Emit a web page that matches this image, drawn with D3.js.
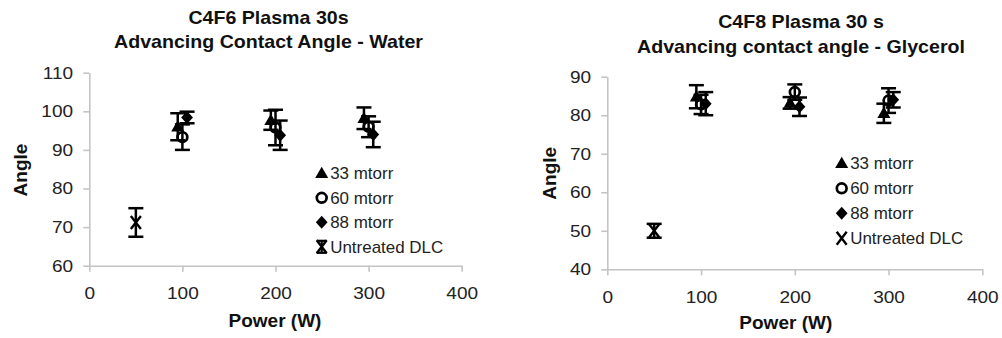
<!DOCTYPE html>
<html>
<head>
<meta charset="utf-8">
<script src="https://cdn.jsdelivr.net/npm/d3@7"></script>
<style>
  body { margin: 0; background: #fff; }
  svg { display: block; font-family: Arial, "Liberation Sans", sans-serif; }
</style>
</head>
<body>
<svg id="chart" width="1002" height="338"></svg>
<script>
// x positions (W) - Excel offsets the series a little around each power
const powerTicks = [0, 100, 200, 300, 400];
const power33 = [95, 195, 295];
const power60 = [100, 200, 300];
const power88 = [105, 205, 305];
const powerUntreated = [50];
const seriesNames = ["33 mtorr", "60 mtorr", "88 mtorr", "Untreated DLC"];

// C4F6 / water
const waterTicks = [60, 70, 80, 90, 100, 110];
const water33 = [96, 97.7, 98.2];
const water33Err = [3.5, 2.5, 2.8];
const water60 = [93.3, 95.8, 96];
const water60Err = [3.3, 4.6, 2.7];
const water88 = [98.4, 93.8, 94];
const water88Err = [1.5, 3.8, 3.3];
const waterUntreated = [71.2];
const waterUntreatedErr = [3.7];

// C4F8 / glycerol
const glycTicks = [40, 50, 60, 70, 80, 90];
const glyc33 = [84.8, 83.2, 80.5];
const glyc33Err = [3, 1.5, 2.5];
const glyc60 = [82.8, 86, 83.8];
const glyc60Err = [2.5, 2, 3.2];
const glyc88 = [83, 82.2, 84];
const glyc88Err = [3, 2.4, 2];
const glycUntreated = [50];
const glycUntreatedErr = [1.8];

const svg = d3.select("#chart");
const markerTypes = ["tri", "circ", "dia", "x"];

function drawMarker(g, type, cx, cy) {
  if (type === "tri") {
    g.append("path").attr("transform", `translate(${cx},${cy + 1})`)
      .attr("d", d3.symbol(d3.symbolTriangle, 74)()).attr("fill", "#000");
  } else if (type === "circ") {
    g.append("circle").attr("cx", cx).attr("cy", cy).attr("r", 4.9)
      .attr("fill", "none").attr("stroke", "#000").attr("stroke-width", 2.7);
  } else if (type === "dia") {
    g.append("path").attr("transform", `translate(${cx},${cy}) scale(1,1.1)`)
      .attr("d", d3.symbol(d3.symbolDiamond2, 88)()).attr("fill", "#000");
  } else {
    g.append("path").attr("transform", `translate(${cx},${cy})`)
      .attr("d", "M-5,-6.5L5,6.5M5,-6.5L-5,6.5")
      .attr("stroke", "#000").attr("stroke-width", 2.4).attr("fill", "none");
  }
}

function drawErr(g, cx, y1, y2) {
  g.append("line").attr("x1", cx).attr("x2", cx).attr("y1", y1).attr("y2", y2);
  g.append("line").attr("x1", cx - 7.5).attr("x2", cx + 7.5).attr("y1", y1).attr("y2", y1);
  g.append("line").attr("x1", cx - 7.5).attr("x2", cx + 7.5).attr("y1", y2).attr("y2", y2);
}

function drawPanel(p) {
  const x = d3.scaleLinear().domain([0, 400]).range([p.left, p.right]);
  const y = d3.scaleLinear().domain(d3.extent(p.yTicks)).range([p.bottom, p.top]);
  const g = svg.append("g");

  // axes
  const yAxis = g.append("g").attr("transform", `translate(${p.left},0)`)
    .call(d3.axisLeft(y).tickValues(p.yTicks).tickSize(6).tickSizeOuter(0).tickPadding(8.5));
  const xAxis = g.append("g").attr("transform", `translate(0,${p.bottom})`)
    .call(d3.axisBottom(x).tickValues(powerTicks).tickSize(6).tickSizeOuter(0).tickPadding(15.3));
  [xAxis, yAxis].forEach(a => {
    a.select(".domain").attr("stroke", "#c4c4c4").attr("stroke-width", 1.6);
    a.selectAll(".tick line").attr("stroke", "#c4c4c4").attr("stroke-width", 1.6);
    a.selectAll(".tick text").attr("fill", "#222").attr("font-size", 17)
      .attr("font-family", "Arial, 'Liberation Sans', sans-serif")
      .attr("transform", "scale(1.12,1)");
  });

  // titles
  p.title.forEach((t, i) => {
    g.append("text").attr("transform", `translate(${p.titleX},${p.titleY[i]}) scale(1.09,1)`)
      .attr("text-anchor", "middle").attr("font-weight", "bold").attr("font-size", 18)
      .attr("fill", "#111").text(t);
  });
  g.append("text").attr("x", p.xTitleX).attr("y", p.xTitleY)
    .attr("text-anchor", "middle").attr("font-weight", "bold").attr("font-size", 19)
    .attr("fill", "#111").text("Power (W)");
  g.append("text").attr("transform", `translate(${p.yTitleX},${p.yTitleY}) rotate(-90)`)
    .attr("text-anchor", "middle").attr("font-weight", "bold").attr("font-size", 19)
    .attr("fill", "#111").text("Angle");

  // data: error bars, then markers
  const eg = g.append("g").attr("stroke", "#000").attr("stroke-width", 2.5);
  const mg = g.append("g");
  p.series.forEach((s, si) => {
    s.xs.forEach((xv, i) => {
      const cx = x(xv);
      drawErr(eg, cx, y(s.ys[i] + s.err[i]), y(s.ys[i] - s.err[i]));
      drawMarker(mg, markerTypes[si], cx, y(s.ys[i]));
    });
  });

  // legend
  const lg = g.append("g");
  seriesNames.forEach((name, i) => {
    const cy = p.legY + i * p.legStep;
    drawMarker(lg, markerTypes[i], p.legX, cy);
    if (i === 3 && p.legErr) {
      const e = lg.append("g").attr("stroke", "#000").attr("stroke-width", 2.2);
      e.append("line").attr("x1", p.legX).attr("x2", p.legX).attr("y1", cy - 6).attr("y2", cy + 6);
      e.append("line").attr("x1", p.legX - 5).attr("x2", p.legX + 5).attr("y1", cy - 6).attr("y2", cy - 6);
      e.append("line").attr("x1", p.legX - 5).attr("x2", p.legX + 5).attr("y1", cy + 6).attr("y2", cy + 6);
    }
    lg.append("text").attr("transform", `translate(${p.legX + 8.5},${cy + 5.8}) scale(1.06,1)`)
      .attr("font-size", 16).attr("fill", "#222").text(name);
  });
}

drawPanel({
  left: 89.3, right: 461.7, top: 72.7, bottom: 265.7,
  yTicks: waterTicks,
  title: ["C4F6 Plasma 30s", "Advancing Contact Angle - Water"],
  titleX: 268.5, titleY: [24, 47.5],
  xTitleX: 275, xTitleY: 326.5,
  yTitleX: 27, yTitleY: 170,
  legX: 321.7, legY: 173.3, legStep: 24.5, legErr: true,
  series: [
    { xs: power33, ys: water33, err: water33Err },
    { xs: power60, ys: water60, err: water60Err },
    { xs: power88, ys: water88, err: water88Err },
    { xs: powerUntreated, ys: waterUntreated, err: waterUntreatedErr }
  ]
});

drawPanel({
  left: 607.3, right: 982.3, top: 76.7, bottom: 269.3,
  yTicks: glycTicks,
  title: ["C4F8 Plasma 30 s", "Advancing contact angle - Glycerol"],
  titleX: 801, titleY: [27.5, 53],
  xTitleX: 785.8, xTitleY: 328.5,
  yTitleX: 556, yTitleY: 173.3,
  legX: 841.7, legY: 163.3, legStep: 25, legErr: false,
  series: [
    { xs: power33, ys: glyc33, err: glyc33Err },
    { xs: power60, ys: glyc60, err: glyc60Err },
    { xs: power88, ys: glyc88, err: glyc88Err },
    { xs: powerUntreated, ys: glycUntreated, err: glycUntreatedErr }
  ]
});
</script>
</body>
</html>
